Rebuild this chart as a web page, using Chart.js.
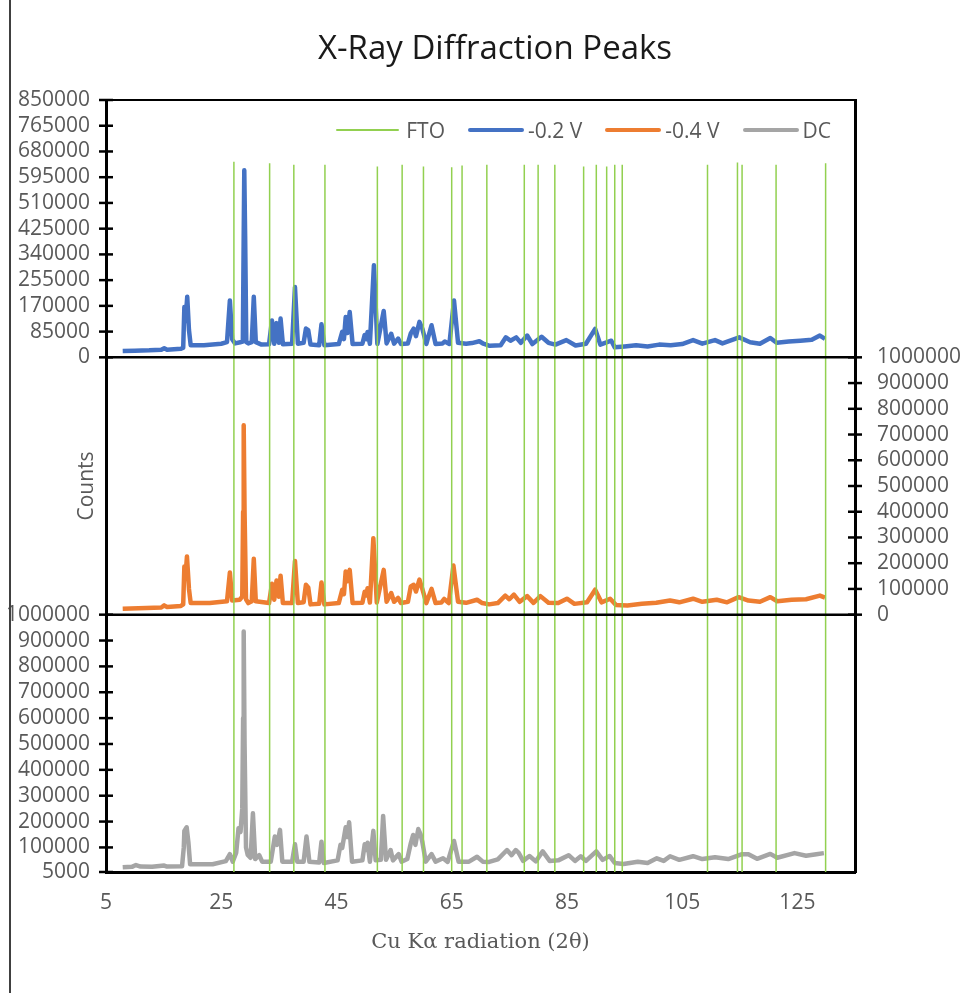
<!DOCTYPE html>
<html>
<head>
<meta charset="utf-8">
<title>X-Ray Diffraction Peaks</title>
<script src="https://cdn.jsdelivr.net/npm/chart.js@4.4.1/dist/chart.umd.min.js"></script>
<style>
  html, body { margin: 0; padding: 0; background: #fff; }
  #wrap { position: relative; width: 970px; height: 995px; }
  #edge { position: absolute; left: 9px; top: 0; width: 2px; height: 993px; background: #404040; }
  #legend { position: absolute; right: 139px; top: 118px; display: flex; align-items: center;
    font-family: 'Open Sans', sans-serif; font-size: 21px; line-height: 24px; color: #595959; }
  #legend .item { display: flex; align-items: center; margin-left: 23px; }
  #legend .swatch { display: inline-block; width: 56px; margin-right: 4px; border-radius: 2px; }
</style>
</head>
<body>
<div id="wrap">
  <canvas id="canvas" width="970" height="995"></canvas>
  <div id="edge"></div>
  <div id="legend"></div>
</div>
<script>
// -0.2 V scan (2θ, counts)
const angle02 = [7.9, 10.0, 12.5, 14.6, 15.1, 15.6, 18.0, 18.4, 18.6, 18.8, 19.1, 19.4, 19.7, 22.0, 25.0, 26.0, 26.5, 26.9, 27.4, 28.3,
  28.75, 28.9, 29.0, 29.15, 29.35, 29.7, 30.3, 30.65, 31.0, 32.0, 33.3, 33.8, 34.2, 34.6, 35.0, 35.3, 35.7, 37.3, 37.8, 38.3, 39.3, 39.7,
  40.1, 40.5, 42.0, 42.4, 42.9, 45.4, 46.0, 46.3, 46.6, 46.9, 47.3, 47.8, 49.5, 49.9, 50.2, 50.4, 50.8, 51.5, 52.1, 53.2,
  53.7, 54.5, 55.0, 55.7, 56.2, 57.4, 57.9, 58.4, 58.8, 59.4, 59.9, 60.6, 61.5, 62.2, 63.4, 63.8, 64.6, 65.4, 66.1, 67.5,
  68.5, 69.8, 70.5, 71.6, 73.5, 74.4, 75.2, 76.2, 77.0, 78.1, 79.0, 80.6, 81.8, 83.0, 84.9, 86.5, 88.3, 89.9, 90.8, 92.7,
  93.3, 95.0, 97.0, 99.0, 101.0, 103.0, 105.0, 106.9, 108.5, 110.7, 112.0, 114.9, 116.8, 118.5, 120.3, 121.4, 123.5, 125.5, 127.5, 128.9, 129.8];
const counts02 = [21000, 22000, 23000, 25000, 30000, 25000, 28000, 32000, 166000, 120000, 200000, 90000, 40000, 40000, 45000, 50000, 188000, 60000, 46000, 50000,
  52000, 400000, 618000, 400000, 50000, 46000, 50000, 200000, 50000, 42000, 43000, 122000, 45000, 113000, 48000, 128000, 43000, 45000, 232000, 45000, 48000, 95000,
  90000, 42000, 40000, 109000, 40000, 44000, 84000, 60000, 133000, 80000, 150000, 44000, 45000, 74000, 60000, 84000, 45000, 304000, 44000, 153000,
  46000, 78000, 45000, 62000, 44000, 46000, 79000, 95000, 70000, 117000, 95000, 44000, 106000, 44000, 46000, 52000, 44000, 188000, 48000, 45000,
  47000, 53000, 45000, 38000, 40000, 66000, 55000, 66000, 48000, 72000, 44000, 68000, 48000, 42000, 57000, 39000, 45000, 94000, 42000, 55000,
  33000, 36000, 40000, 36000, 42000, 40000, 44000, 57000, 45000, 57000, 46000, 66000, 50000, 45000, 64000, 48000, 52000, 55000, 58000, 72000, 61000];

// -0.4 V scan
const angle04 = [7.9, 12.0, 14.6, 15.1, 15.6, 18.0, 18.4, 18.6, 18.8, 19.05, 19.4, 19.7, 23.0, 26.0, 26.5, 26.9, 28.2, 28.65, 28.8, 28.9, 29.05, 29.3,
  29.7, 30.3, 30.65, 31.0, 33.3, 33.8, 34.2, 34.6, 35.0, 35.3, 35.7, 37.3, 37.8, 38.3, 39.3, 39.7, 40.1, 40.5, 42.0, 42.4,
  42.9, 45.4, 46.0, 46.3, 46.6, 46.9, 47.3, 47.8, 49.5, 49.9, 50.2, 50.4, 50.8, 51.4, 52.0, 53.2, 53.7, 54.5, 55.0, 55.7,
  56.2, 57.4, 57.9, 58.4, 58.8, 59.4, 59.9, 60.6, 61.5, 62.2, 63.2, 63.7, 64.5, 65.3, 66.1, 67.5, 69.4, 70.3, 71.5, 73.0,
  74.3, 75.0, 75.8, 76.8, 78.1, 79.2, 80.4, 81.8, 83.5, 85.0, 86.3, 88.5, 89.9, 91.0, 92.5, 93.5, 95.5, 98.0, 100.5, 102.9,
  104.5, 106.9, 108.5, 111.0, 112.8, 114.8, 116.5, 118.5, 120.3, 121.5, 124.0, 126.5, 128.9, 129.8];
const counts04 = [23000, 26000, 28000, 36000, 30000, 34000, 40000, 187000, 150000, 226000, 100000, 45000, 45000, 52000, 164000, 55000, 58000, 70000, 400000, 736000, 400000, 60000,
  45000, 52000, 217000, 52000, 45000, 120000, 58000, 133000, 70000, 151000, 45000, 45000, 209000, 45000, 48000, 116000, 106000, 40000, 42000, 125000,
  40000, 45000, 97000, 80000, 168000, 130000, 174000, 45000, 46000, 89000, 75000, 103000, 47000, 297000, 47000, 174000, 50000, 84000, 50000, 65000,
  45000, 50000, 110000, 116000, 90000, 136000, 100000, 45000, 100000, 45000, 47000, 61000, 45000, 191000, 50000, 46000, 58000, 45000, 40000, 45000,
  74000, 60000, 78000, 50000, 72000, 46000, 72000, 46000, 45000, 62000, 42000, 48000, 97000, 48000, 62000, 38000, 36000, 42000, 46000, 55000,
  48000, 62000, 50000, 58000, 48000, 68000, 55000, 50000, 68000, 52000, 58000, 60000, 74000, 66000];

// DC scan
const angleDC = [7.9, 9.5, 10.2, 11.0, 13.0, 15.1, 15.6, 18.2, 18.5, 18.6, 19.0, 19.3, 19.6, 23.5, 25.8, 26.5, 27.0, 27.6, 28.0, 28.35,
  28.65, 28.8, 28.9, 29.05, 29.3, 29.6, 30.1, 30.5, 30.9, 31.6, 32.1, 33.6, 34.0, 34.3, 34.7, 35.2, 35.6, 37.3, 37.8, 38.2, 39.3, 39.8, 40.3,
  42.0, 42.4, 42.8, 45.2, 45.7, 46.0, 46.6, 46.9, 47.2, 47.7, 49.5, 49.9, 50.2, 50.4, 50.8, 51.4, 51.8, 52.7, 53.1, 53.6,
  54.4, 54.8, 55.8, 56.3, 57.3, 57.9, 58.3, 58.7, 59.2, 59.6, 59.9, 60.5, 61.5, 62.2, 63.5, 64.3, 65.4, 66.2, 68.0, 69.4,
  70.4, 71.5, 73.0, 74.6, 75.4, 76.1, 76.6, 77.4, 78.5, 79.6, 80.8, 82.0, 83.5, 85.3, 86.4, 87.4, 88.3, 90.1, 91.2, 92.4,
  93.3, 94.8, 97.3, 99.0, 100.6, 101.8, 102.9, 104.5, 106.9, 108.5, 110.7, 113.0, 115.4, 116.5, 118.0, 120.3, 121.5, 124.5, 126.5, 128.3, 129.6];
const countsDC = [23000, 25000, 32000, 26000, 25000, 30000, 26000, 27000, 100000, 164000, 178000, 120000, 35000, 35000, 47000, 74000, 45000, 80000, 174000, 160000,
  250000, 600000, 935000, 500000, 100000, 71000, 60000, 232000, 55000, 70000, 45000, 45000, 100000, 142000, 110000, 168000, 45000, 45000, 112000, 45000, 45000, 142000, 45000,
  42000, 122000, 40000, 50000, 110000, 98000, 178000, 140000, 197000, 45000, 50000, 112000, 90000, 118000, 45000, 164000, 50000, 52000, 222000, 52000,
  90000, 50000, 74000, 45000, 55000, 116000, 148000, 110000, 171000, 150000, 122000, 45000, 74000, 45000, 58000, 44000, 125000, 45000, 45000, 64000,
  45000, 44000, 54000, 90000, 70000, 90000, 80000, 48000, 67000, 46000, 85000, 48000, 50000, 70000, 48000, 66000, 48000, 85000, 52000, 67000,
  40000, 36000, 45000, 40000, 58000, 48000, 66000, 52000, 66000, 55000, 62000, 55000, 74000, 74000, 56000, 75000, 60000, 78000, 68000, 74000, 78000];

// FTO reference lines (2θ, relative height)
const ftoAngles = [27.2, 33.4, 37.6, 43.0, 52.1, 56.4, 60.1, 65.0, 66.8, 71.1, 77.6, 80.0, 82.9, 87.9, 90.1, 91.9, 93.3, 94.6, 109.4, 114.6, 115.4, 121.3, 129.9];
const ftoHeights = [92.0, 91.8, 91.6, 91.6, 91.4, 91.6, 91.4, 91.3, 91.5, 91.6, 91.6, 91.6, 91.6, 91.4, 91.6, 91.4, 91.6, 91.6, 91.6, 91.9, 91.6, 91.6, 91.8];

// axis ticks
const xTicks = [5, 25, 45, 65, 85, 105, 125];
const topTicks = [0, 85000, 170000, 255000, 340000, 425000, 510000, 595000, 680000, 765000, 850000];
const midTicks = [0, 100000, 200000, 300000, 400000, 500000, 600000, 700000, 800000, 900000, 1000000];
const botTicks = [5000, 100000, 200000, 300000, 400000, 500000, 600000, 700000, 800000, 900000, 1000000];

const tickFont = { family: "'Open Sans', sans-serif", size: 21 };
const grey = '#595959';

function pairs(xs, ys) {
  return xs.map((x, i) => ({ x: x, y: ys[i] }));
}

const ftoPoints = [];
ftoAngles.forEach((a, i) => {
  ftoPoints.push({ x: a, y: 0 }, { x: a, y: ftoHeights[i] }, { x: a, y: null });
});

function fixedTicks(values) {
  return function (scale) { scale.ticks = values.map(v => ({ value: v })); };
}

function line(ctx, x1, y1, x2, y2) {
  ctx.beginPath();
  ctx.moveTo(x1, y1);
  ctx.lineTo(x2, y2);
  ctx.stroke();
}

// top border, panel separators and Excel style cross tick marks
const panelFrame = {
  id: 'panelFrame',
  afterLayout(chart) {
    // the title sits a little right of the canvas centre in the original
    if (chart.titleBlock) chart.titleBlock.left = 20;
  },
  afterDatasetsDraw(chart) {
    const { ctx, chartArea, scales } = chart;
    ctx.save();
    ctx.strokeStyle = '#000';
    ctx.lineWidth = 2;
    const top = scales.yTop.getPixelForValue(850000);
    line(ctx, chartArea.left, top, chartArea.right, top);
    ctx.lineWidth = 2.5;
    [scales.yTop.getPixelForValue(0), scales.yMid.getPixelForValue(0)].forEach(y => {
      line(ctx, chartArea.left, y, chartArea.right, y);
    });
    [['yTop', 'right'], ['yBot', 'right'], ['yMid', 'left']].forEach(([id, side]) => {
      const s = scales[id];
      const x = s[side];
      s.ticks.forEach(t => {
        const y = s.getPixelForValue(t.value);
        line(ctx, x - 7, y, x + 7, y);
      });
    });
    ctx.restore();
  }
};

// legend sits inside the plot, so it is built as html from the chart's own legend items
const htmlLegend = {
  id: 'htmlLegend',
  afterUpdate(chart) {
    const box = document.getElementById('legend');
    box.innerHTML = '';
    const items = Chart.defaults.plugins.legend.labels.generateLabels(chart);
    items.forEach(item => {
      const el = document.createElement('span');
      el.className = 'item';
      const sw = document.createElement('span');
      sw.className = 'swatch';
      sw.style.background = item.strokeStyle;
      sw.style.height = item.lineWidth + 'px';
      if (item.lineWidth < 2) { sw.style.width = '63px'; sw.style.marginRight = '7px'; }
      el.appendChild(sw);
      el.appendChild(document.createTextNode(item.text));
      box.appendChild(el);
    });
  }
};

function valueAxis(pos, weight, min, max, ticks) {
  return {
    type: 'linear',
    position: pos,
    stack: pos,
    weight: weight,
    min: min,
    max: max,
    afterBuildTicks: fixedTicks(ticks),
    afterFit: s => { s.width = pos === 'left' ? 106 : 115; },
    grid: { display: false, drawTicks: false },
    border: { color: '#000', width: 3 },
    ticks: {
      font: tickFont, color: grey, autoSkip: false,
      padding: pos === 'left' ? 16 : 22,
      callback: v => String(v)
    }
  };
}

function spacerAxis(pos, weight) {
  return {
    type: 'linear',
    position: pos,
    stack: pos,
    weight: weight,
    afterFit: s => { s.width = pos === 'left' ? 106 : 115; },
    grid: { display: false, drawTicks: false },
    border: { color: '#000', width: 3 },
    ticks: { display: false }
  };
}

const midLeft = spacerAxis('left', 2);
midLeft.title = {
  display: true, text: 'Counts', color: grey,
  font: { family: "'Open Sans', sans-serif", size: 21 },
  padding: { top: 74, bottom: 0 }
};

new Chart(document.getElementById('canvas'), {
  type: 'line',
  data: {
    datasets: [
      { label: 'FTO', data: ftoPoints, yAxisID: 'yFTO', borderColor: '#92D050', borderWidth: 1.5, pointRadius: 0, spanGaps: false },
      { label: '-0.2 V', data: pairs(angle02, counts02), yAxisID: 'yTop', borderColor: '#4472C4', borderWidth: 4.5, pointRadius: 0, borderJoinStyle: 'round' },
      { label: '-0.4 V', data: pairs(angle04, counts04), yAxisID: 'yMid', borderColor: '#ED7D31', borderWidth: 4.5, pointRadius: 0, borderJoinStyle: 'round' },
      { label: 'DC', data: pairs(angleDC, countsDC), yAxisID: 'yBot', borderColor: '#A5A5A5', borderWidth: 4.5, pointRadius: 0, borderJoinStyle: 'round' }
    ]
  },
  options: {
    responsive: false,
    animation: false,
    events: [],
    devicePixelRatio: 1,
    layout: { padding: 0 },
    scales: {
      x: {
        type: 'linear', min: 5, max: 135,
        afterBuildTicks: fixedTicks(xTicks),
        afterFit: s => { s.height = 123; },
        grid: { display: false, drawTicks: false },
        border: { color: '#000', width: 3 },
        ticks: { font: tickFont, color: grey, padding: 18, maxRotation: 0, autoSkip: false },
        title: {
          display: true, text: 'Cu Kα radiation (2θ)', color: grey,
          font: { family: "'DejaVu Serif', serif", size: 21 },
          padding: { top: 0, bottom: 40 }
        }
      },
      yTop: valueAxis('left', 3, 0, 850000, topTicks),
      yMidL: midLeft,
      yBot: valueAxis('left', 1, 5000, 1000000, botTicks),
      yTopR: spacerAxis('right', 1),
      yMid: valueAxis('right', 2, 0, 1000000, midTicks),
      yBotR: spacerAxis('right', 3),
      yFTO: { type: 'linear', display: false, min: 0, max: 100 }
    },
    plugins: {
      title: {
        display: true, text: 'X-Ray Diffraction Peaks', color: '#1a1a1a',
        font: { family: "'Open Sans', sans-serif", size: 33, weight: 'normal' },
        padding: { top: 30, bottom: 30.4 }
      },
      legend: { display: false },
      tooltip: { enabled: false }
    }
  },
  plugins: [panelFrame, htmlLegend]
});
</script>
</body>
</html>
